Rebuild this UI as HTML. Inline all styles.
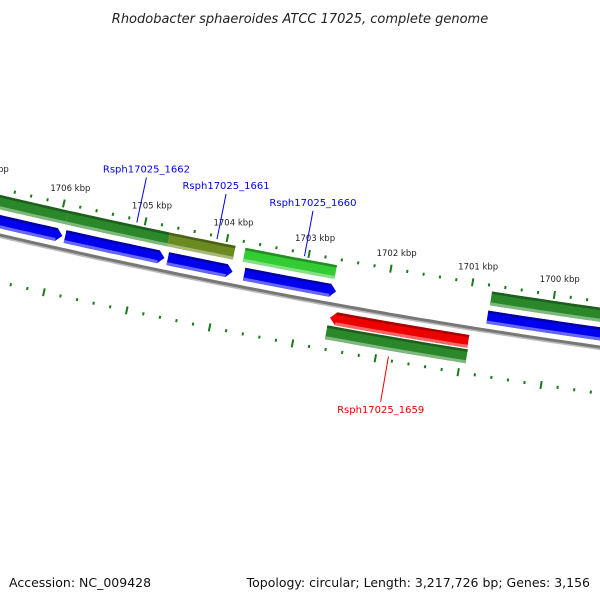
<!DOCTYPE html>
<html><head><meta charset="utf-8"><style>
body{margin:0;background:#fff}
svg{display:block;font-family:"DejaVu Sans","Liberation Sans",sans-serif}
</style></head><body>
<svg id="chart" width="600" height="600" viewBox="0 0 600 600">
<text x="300" y="23" text-anchor="middle" font-size="13" font-style="italic" fill="#222">Rhodobacter sphaeroides ATCC 17025, complete genome</text>
<g id="ticks"></g>
<g id="backbone"></g>
<g id="genes"></g>
<g id="labels"></g>
<text x="9" y="587" font-size="12.5" fill="#111">Accession: NC_009428</text>
<text x="590" y="587" text-anchor="end" font-size="12.5" fill="#111">Topology: circular; Length: 3,217,726 bp; Genes: 3,156</text>
</svg>
<script>
// data (kbp)
const tickStart = 1699;
const tickEnd = 1708;
const geneStart = [1707.5, 1705.927, 1704.688, 1703.764, 1700.751, 1702.63];
const geneEnd = [1705.927, 1704.688, 1703.886, 1702.646, 1699.0, 1700.93];
const geneTrack = ['up', 'up', 'up', 'up', 'up', 'down'];
const geneColor = ['#2a882a', '#2a882a', '#6b8a22', '#33cc33', '#2a882a', '#2a882a'];
const cdsStart = [1707.5, 1705.90, 1704.65, 1703.72, 1700.76, 1702.616];
const cdsEnd = [1705.932, 1704.69, 1703.86, 1702.60, 1699.0, 1700.939];
const cdsColor = ['#0000ee', '#0000ee', '#0000ee', '#0000ee', '#0000ee', '#ee0000'];
const cdsArrow = ['right', 'right', 'right', 'right', 'none', 'left'];
const labelNames = ['Rsph17025_1662', 'Rsph17025_1661', 'Rsph17025_1660', 'Rsph17025_1659'];
const labelPos = [1705.1, 1704.12, 1703.05, 1701.85];
const labelColor = ['#0000ee', '#0000ee', '#0000ee', '#ee0000'];

const NS = 'http://www.w3.org/2000/svg';
function S(p){return 54 + (1706 - p) * 82.3;}
function Y(x){return 235 + 0.2333*x - 7.78e-5*x*x;}
function ptS(s, v){const d = 0.2333 - 1.556e-4*s; const n = Math.hypot(1, d); return [s + v*(-d)/n, Y(s) + v/n];}
function pt(p, v){return ptS(S(p), v);}
function el(tag, attrs, parent){const e = document.createElementNS(NS, tag); for (const k in attrs) e.setAttribute(k, attrs[k]); parent.appendChild(e); return e;}
function band(s1, s2, v1, v2){const a = [], b = []; for (let i = 0; i <= 12; i++){const s = s1 + (s2 - s1)*i/12; a.push(ptS(s, v1)); b.unshift(ptS(s, v2));} return a.concat(b);}
function poly(pts){return pts.map(q => q[0].toFixed(1) + ',' + q[1].toFixed(1)).join(' ');}
function shade(hex, f){const c = parseInt(hex.slice(1), 16); let r = c>>16, g = (c>>8)&255, b = c&255; const m = x => Math.max(0, Math.min(255, Math.round(f > 0 ? x + (255 - x)*f : x*(1 + f)))); return 'rgb(' + m(r) + ',' + m(g) + ',' + m(b) + ')';}

const ticks = document.getElementById('ticks');
for (let k = tickStart*5; k <= tickEnd*5; k++){
  const p = k/5, major = (k % 5 === 0);
  [-45, 46].forEach(v => {
    const L = major ? 4 : 1.5;
    const a = pt(p, v - L), b = pt(p, v + L);
    const t = el('line', {x1:a[0], y1:a[1], x2:b[0], y2:b[1], stroke:'#1a7a1a', 'stroke-width':2}, ticks);
    
    
  });
  if (major && v0ok(p)){
    const q = pt(p, -61);
    const tx = el('text', {x:q[0] + 3, y:q[1] + 3, 'text-anchor':'middle', 'font-size':8.5, fill:'#222'}, ticks);
    tx.textContent = p + ' kbp';
    
    
  }
}
function v0ok(p){return true;}

const bb = document.getElementById('backbone');
const bp = []; for (let s = -10; s <= 610; s += 10) bp.push(ptS(s, 0));
const bp2 = bp.map(q => [q[0], q[1] + 1.6]);
let e1 = el('polyline', {points:poly(bp2), fill:'none', stroke:'#bbb', 'stroke-width':3}, bb);


let e2 = el('polyline', {points:poly(bp), fill:'none', stroke:'#777', 'stroke-width':3}, bb);



const genes = document.getElementById('genes');
function bar(s1, s2, vc, h, color, arrow, name){
  const g = el('g', {}, genes);
  
  
  const top = vc - h/2, bot = vc + h/2, A = 6;
  let pts;
  if (arrow === 'right'){
    pts = band(s1, s2 - A, top, bot); const tip = ptS(s2, vc);
    pts.splice(13, 0, tip);
  } else if (arrow === 'left'){
    pts = band(s1 + A, s2, top, bot); pts.push(ptS(s1, vc));
  } else pts = band(s1, s2, top, bot);
  el('polygon', {points:poly(pts), fill:color}, g);
  const a1 = arrow === 'left' ? s1 + A : s1, a2 = arrow === 'right' ? s2 - A : s2;
  el('polygon', {points:poly(band(a1, a2, top, top + 2.5)), fill:shade(color, -0.3)}, g);
  el('polygon', {points:poly(band(a1, a2, bot - 3, bot)), fill:shade(color, 0.4)}, g);
}
for (let i = 0; i < geneStart.length; i++){
  const up = geneTrack[i] === 'up';
  bar(S(geneStart[i]), S(geneEnd[i]), up ? -32 : 29, 14, geneColor[i], 'none', 'gene-bar');
  bar(S(cdsStart[i]), S(cdsEnd[i]), up ? -13 : 14, 13, cdsColor[i], cdsArrow[i], 'cds-arrow');
}

const labels = document.getElementById('labels');
for (let i = 0; i < labelNames.length; i++){
  const up = i < 3;
  const a = pt(labelPos[i], up ? -42 : 42), b = pt(labelPos[i], up ? -88 : 88);
  const ln = el('line', {x1:a[0], y1:a[1], x2:b[0], y2:b[1], stroke:labelColor[i], 'stroke-width':1}, labels);
  
  
  const t = el('text', {x:b[0], y:up ? b[1] - 5 : b[1] + 11, 'text-anchor':'middle', 'font-size':10, fill:labelColor[i]}, labels);
  t.textContent = labelNames[i];
  
  
}
</script>
</body></html>
